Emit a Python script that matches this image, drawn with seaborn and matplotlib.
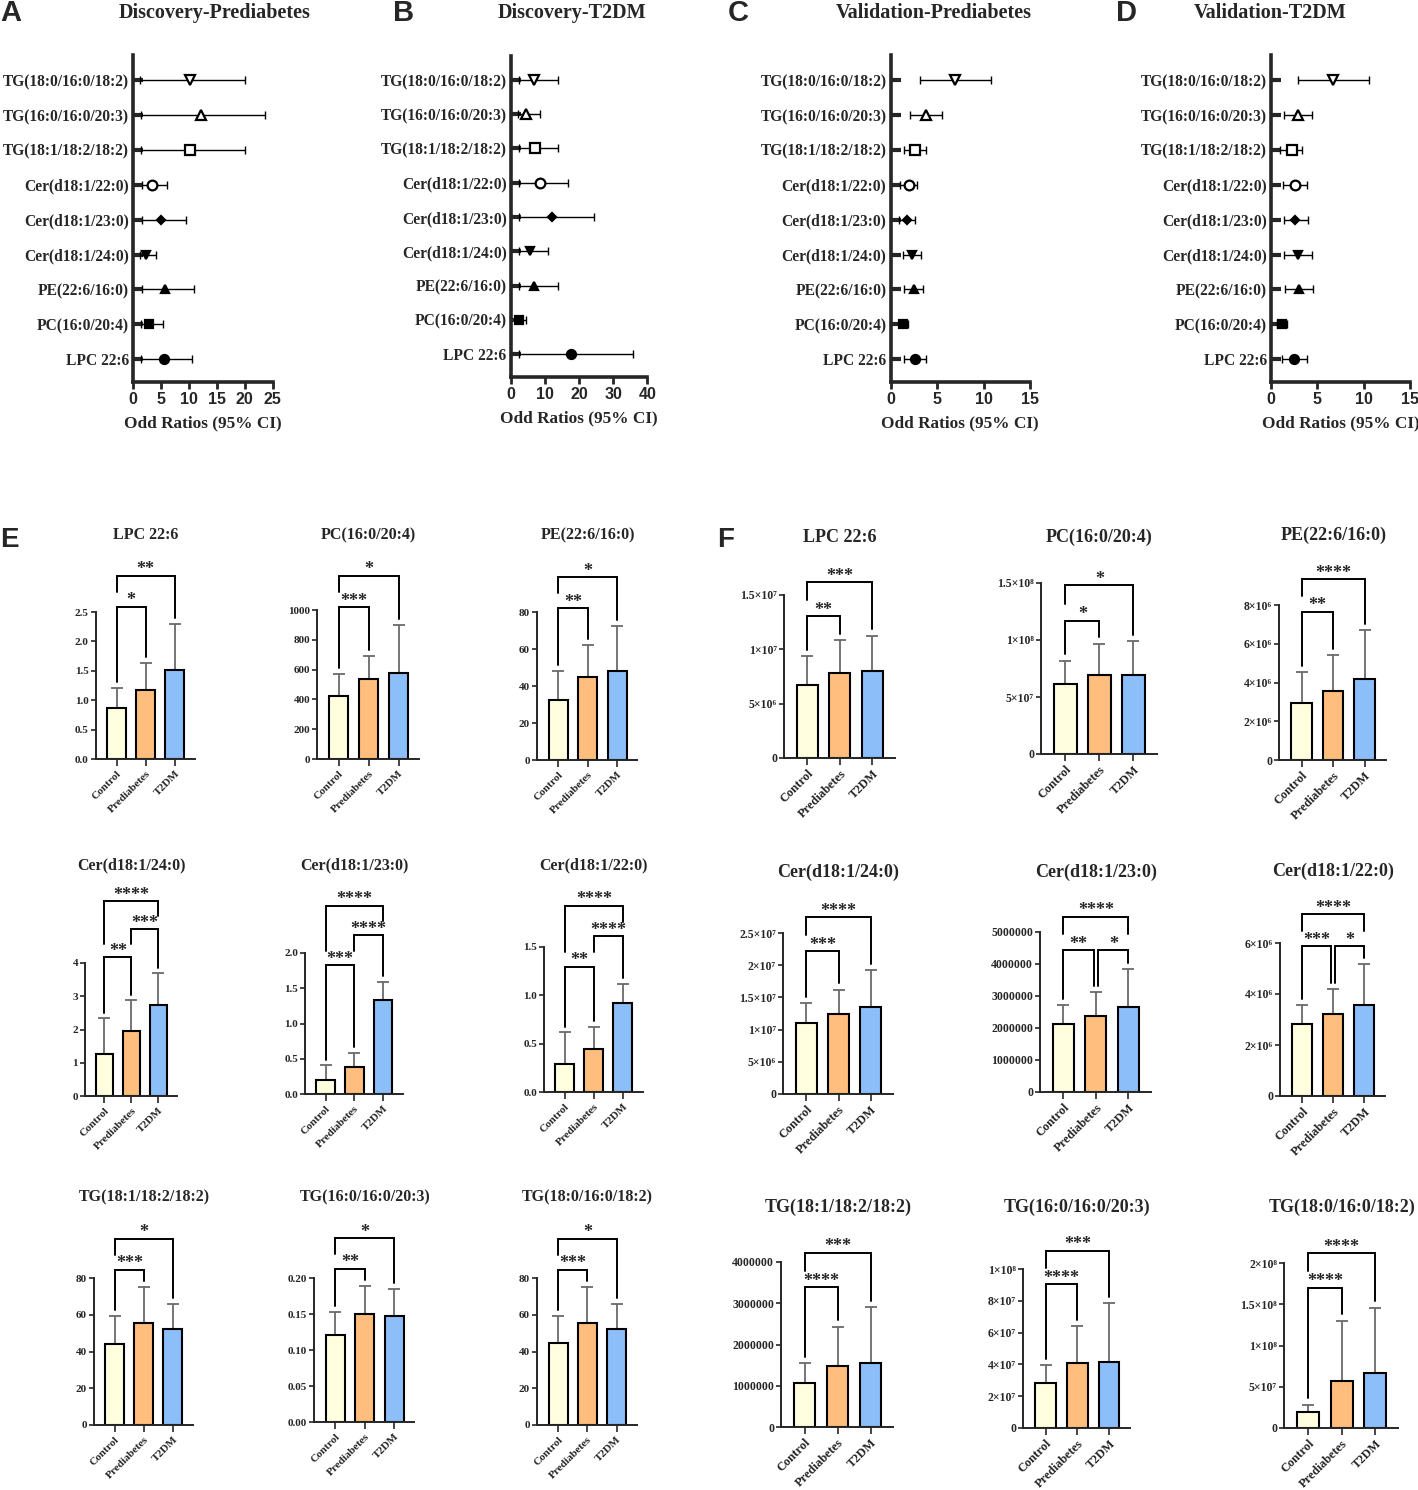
import numpy as np
import pandas as pd
import matplotlib.pyplot as plt
import seaborn as sns

W, H = 1418, 1490

# ---------------- forest plots (A-D) ----------------
lipids = ["TG(18:0/16:0/18:2)", "TG(16:0/16:0/20:3)", "TG(18:1/18:2/18:2)",
          "Cer(d18:1/22:0)", "Cer(d18:1/23:0)", "Cer(d18:1/24:0)",
          "PE(22:6/16:0)", "PC(16:0/20:4)", "LPC 22:6"]

disc_pre_or = [10.2, 12.1, 10.2, 3.3, 5.0, 2.2, 5.6, 2.9, 5.5]
disc_pre_lo = [1.2, 1.3, 1.3, 1.5, 1.5, 1.2, 1.5, 1.3, 1.4]
disc_pre_hi = [20.0, 23.7, 20.0, 6.1, 9.4, 4.1, 10.8, 5.3, 10.5]

disc_t2d_or = [6.9, 4.4, 7.0, 8.6, 12.1, 5.6, 6.8, 2.3, 17.6]
disc_t2d_lo = [2.5, 2.2, 2.5, 2.5, 2.5, 2.5, 2.5, 1.2, 2.5]
disc_t2d_hi = [13.9, 8.7, 13.9, 16.9, 24.5, 11.0, 13.8, 4.5, 35.9]

val_pre_or = [6.9, 3.8, 2.6, 1.96, 1.77, 2.34, 2.5, 1.3, 2.6]
val_pre_lo = [3.15, 2.15, 1.5, 1.05, 0.9, 1.3, 1.4, 0.9, 1.5]
val_pre_hi = [10.8, 5.5, 3.8, 2.8, 2.6, 3.3, 3.5, 1.85, 3.8]

val_t2d_or = [6.7, 2.9, 2.26, 2.55, 2.64, 2.9, 3.0, 1.15, 2.5]
val_t2d_lo = [2.9, 1.45, 1.0, 1.3, 1.35, 1.45, 1.5, 0.7, 1.2]
val_t2d_hi = [10.6, 4.4, 3.3, 3.9, 4.0, 4.4, 4.5, 1.7, 3.85]

marker_shapes = ["v", "^", "s", "o", "D", "v", "^", "s", "o"]
marker_open = [True, True, True, True, False, False, False, False, False]
marker_sizes = [7, 7, 6.5, 7, 4.5, 6, 6, 6, 6.5]

# ---------------- bar plots (E, F) ----------------
groups = ["Control", "Prediabetes", "T2DM"]
group_colors = ["#FFFFE0", "#FFBE7D", "#8CBEFA"]

# E: discovery cohort
e_lpc_mean = [0.86, 1.17, 1.51]
e_lpc_sd = [0.35, 0.46, 0.78]
e_lpc_ticks = [0, 0.5, 1.0, 1.5, 2.0, 2.5]
e_lpc_labels = ["0.0", "0.5", "1.0", "1.5", "2.0", "2.5"]
e_lpc_sig = [(0, 1, "*", 0), (0, 2, "**", 1)]

e_pc_mean = [425, 537, 580]
e_pc_sd = [145, 155, 319]
e_pc_ticks = [0, 200, 400, 600, 800, 1000]
e_pc_labels = ["0", "200", "400", "600", "800", "1000"]
e_pc_sig = [(0, 1, "***", 0), (0, 2, "*", 1)]

e_pe_mean = [32.5, 44.7, 48.3]
e_pe_sd = [15.4, 17.4, 24.2]
e_pe_ticks = [0, 20, 40, 60, 80]
e_pe_labels = ["0", "20", "40", "60", "80"]
e_pe_sig = [(0, 1, "**", 0), (0, 2, "*", 1)]

e_cer24_mean = [1.25, 1.94, 2.75]
e_cer24_sd = [1.09, 0.94, 0.94]
e_cer24_ticks = [0, 1, 2, 3, 4]
e_cer24_labels = ["0", "1", "2", "3", "4"]
e_cer24_sig = [(0, 1, "**", 0), (1, 2, "***", 1), (0, 2, "****", 2)]

e_cer23_mean = [0.198, 0.377, 1.335]
e_cer23_sd = [0.208, 0.203, 0.255]
e_cer23_ticks = [0, 0.5, 1.0, 1.5, 2.0]
e_cer23_labels = ["0.0", "0.5", "1.0", "1.5", "2.0"]
e_cer23_sig = [(0, 1, "***", 0), (1, 2, "****", 1), (0, 2, "****", 2)]

e_cer22_mean = [0.293, 0.445, 0.917]
e_cer22_sd = [0.324, 0.227, 0.200]
e_cer22_ticks = [0, 0.5, 1.0, 1.5]
e_cer22_labels = ["0.0", "0.5", "1.0", "1.5"]
e_cer22_sig = [(0, 1, "**", 0), (1, 2, "****", 1), (0, 2, "****", 2)]

e_tg181_mean = [44.3, 55.4, 52.5]
e_tg181_sd = [15.0, 19.6, 13.4]
e_tg181_ticks = [0, 20, 40, 60, 80]
e_tg181_labels = ["0", "20", "40", "60", "80"]
e_tg181_sig = [(0, 1, "***", 0), (0, 2, "*", 1)]

e_tg160_mean = [0.121, 0.1506, 0.147]
e_tg160_sd = [0.032, 0.0384, 0.038]
e_tg160_ticks = [0, 0.05, 0.10, 0.15, 0.20]
e_tg160_labels = ["0.00", "0.05", "0.10", "0.15", "0.20"]
e_tg160_sig = [(0, 1, "**", 0), (0, 2, "*", 1)]

e_tg180_mean = [44.5, 55.4, 52.5]
e_tg180_sd = [14.8, 19.6, 13.3]
e_tg180_ticks = [0, 20, 40, 60, 80]
e_tg180_labels = ["0", "20", "40", "60", "80"]
e_tg180_sig = [(0, 1, "***", 0), (0, 2, "*", 1)]

# F: validation cohort
f_lpc_mean = [6.73e6, 7.84e6, 8.05e6]
f_lpc_sd = [2.65e6, 3.01e6, 3.2e6]
f_lpc_ticks = [0, 5e6, 1e7, 1.5e7]
f_lpc_labels = ["0", "5×10⁶", "1×10⁷", "1.5×10⁷"]
f_lpc_sig = [(0, 1, "**", 0), (0, 2, "***", 1)]

f_pc_mean = [6.17e7, 6.93e7, 6.96e7]
f_pc_sd = [1.96e7, 2.75e7, 2.92e7]
f_pc_ticks = [0, 5e7, 1e8, 1.5e8]
f_pc_labels = ["0", "5×10⁷", "1×10⁸", "1.5×10⁸"]
f_pc_sig = [(0, 1, "*", 0), (0, 2, "*", 1)]

f_pe_mean = [2.92e6, 3.58e6, 4.16e6]
f_pe_sd = [1.62e6, 1.84e6, 2.54e6]
f_pe_ticks = [0, 2e6, 4e6, 6e6, 8e6]
f_pe_labels = ["0", "2×10⁶", "4×10⁶", "6×10⁶", "8×10⁶"]
f_pe_sig = [(0, 1, "**", 0), (0, 2, "****", 1)]

f_cer24_mean = [1.102e7, 1.247e7, 1.356e7]
f_cer24_sd = [3.06e6, 3.73e6, 5.64e6]
f_cer24_ticks = [0, 5e6, 1e7, 1.5e7, 2e7, 2.5e7]
f_cer24_labels = ["0", "5×10⁶", "1×10⁷", "1.5×10⁷", "2×10⁷", "2.5×10⁷"]
f_cer24_sig = [(0, 1, "***", 0), (0, 2, "****", 1)]

f_cer23_mean = [2.116e6, 2.365e6, 2.645e6]
f_cer23_sd = [5.94e5, 7.45e5, 1.185e6]
f_cer23_ticks = [0, 1e6, 2e6, 3e6, 4e6, 5e6]
f_cer23_labels = ["0", "1000000", "2000000", "3000000", "4000000", "5000000"]
f_cer23_sig = [(0, 1, "**", 0), (1, 2, "*", 0), (0, 2, "****", 1)]

f_cer22_mean = [2.84e6, 3.21e6, 3.585e6]
f_cer22_sd = [7.2e5, 1.0e6, 1.575e6]
f_cer22_ticks = [0, 2e6, 4e6, 6e6]
f_cer22_labels = ["0", "2×10⁶", "4×10⁶", "6×10⁶"]
f_cer22_sig = [(0, 1, "***", 0), (1, 2, "*", 0), (0, 2, "****", 1)]

f_tg181_mean = [1.063e6, 1.485e6, 1.56e6]
f_tg181_sd = [4.77e5, 9.45e5, 1.345e6]
f_tg181_ticks = [0, 1e6, 2e6, 3e6, 4e6]
f_tg181_labels = ["0", "1000000", "2000000", "3000000", "4000000"]
f_tg181_sig = [(0, 1, "****", 0), (0, 2, "***", 1)]

f_tg160_mean = [2.82e7, 4.08e7, 4.12e7]
f_tg160_sd = [1.13e7, 2.33e7, 3.72e7]
f_tg160_ticks = [0, 2e7, 4e7, 6e7, 8e7, 1e8]
f_tg160_labels = ["0", "2×10⁷", "4×10⁷", "6×10⁷", "8×10⁷", "1×10⁸"]
f_tg160_sig = [(0, 1, "****", 0), (0, 2, "***", 1)]

f_tg180_mean = [1.94e7, 5.75e7, 6.64e7]
f_tg180_sd = [8.5e6, 7.21e7, 7.96e7]
f_tg180_ticks = [0, 5e7, 1e8, 1.5e8, 2e8]
f_tg180_labels = ["0", "5×10⁷", "1×10⁸", "1.5×10⁸", "2×10⁸"]
f_tg180_sig = [(0, 1, "****", 0), (0, 2, "****", 1)]


sns.set_style("ticks")
plt.rcParams["font.family"] = ["Liberation Serif", "DejaVu Serif"]
plt.rcParams["font.weight"] = "bold"
plt.rcParams["axes.linewidth"] = 1.4

SANS = ["Liberation Sans", "DejaVu Sans"]

fig = plt.figure(figsize=(W / 100, H / 100), dpi=100)


def px_axes(left, bottom, width, height):
    return fig.add_axes([left / W, 1 - bottom / H, width / W, height / H])


def forest(rect, ylims, orr, lo, hi, xmax, xstep, title, title_x, letter, letter_x):
    ax = px_axes(*rect)
    orr, lo, hi = np.array(orr), np.array(lo), np.array(hi)
    ypos = np.arange(len(lipids))
    ax.errorbar(orr, ypos, xerr=[orr - lo, hi - orr], fmt="none", ecolor="black",
                elinewidth=1.0, capsize=3, capthick=1.0, zorder=2)
    for k in ypos:
        ax.plot(orr[k], k, marker=marker_shapes[k], ms=marker_sizes[k],
                mfc="white" if marker_open[k] else "black", mec="black",
                mew=1.6, ls="none", zorder=3)
    ax.set_xlim(0, xmax)
    ax.set_ylim(*ylims)
    ax.set_yticks(ypos, lipids)
    ax.set_xticks(np.arange(0, xmax + 1, xstep))
    for lab in ax.get_xticklabels():
        lab.set_family(SANS)
        lab.set_fontweight("bold")
    ax.tick_params(axis="y", direction="in", length=7, width=3, pad=3, labelsize=11.2)
    ax.tick_params(axis="x", direction="out", length=5, width=2, pad=2, labelsize=11.5)
    for s in ("left", "bottom"):
        ax.spines[s].set_linewidth(2.6)
    sns.despine(ax=ax)
    ax.set_xlabel("Odd Ratios (95% CI)", fontsize=12.4, fontweight="bold", labelpad=6)
    fig.text(title_x / W, 1 - 13 / H, title, ha="center", va="center",
             fontsize=14.5, fontweight="bold")
    fig.text(letter_x / W, 1 - 13 / H, letter, ha="left", va="center",
             fontsize=21, fontweight="bold", family=SANS)
    return ax


forest((133.3, 382, 139.4, 327), (8.65, -0.716), disc_pre_or, disc_pre_lo, disc_pre_hi,
       25, 5, "Discovery-Prediabetes", 215, "A", 0)
forest((510.7, 377, 136.6, 321), (8.67, -0.70), disc_t2d_or, disc_t2d_lo, disc_t2d_hi,
       40, 10, "Discovery-T2DM", 572, "B", 393)
forest((890.5, 382, 139.5, 327), (8.65, -0.716), val_pre_or, val_pre_lo, val_pre_hi,
       15, 5, "Validation-Prediabetes", 934, "C", 728)
forest((1271, 382, 139, 327), (8.65, -0.716), val_t2d_or, val_t2d_lo, val_t2d_hi,
       15, 5, "Validation-T2DM", 1270, "D", 1116)


def bar_panel(pos, title, means, sd, ticks, labels, sig, title_y, fs):
    axis_x, zero_y, top_y, spacing = pos
    x0, x1 = -0.72, 2.68
    ax = px_axes(axis_x, zero_y, (x1 - x0) * spacing, zero_y - top_y)
    df = pd.DataFrame({"group": groups, "value": means})
    sns.barplot(data=df, x="group", y="value", hue="group", palette=group_colors,
                saturation=1, width=0.65, edgecolor="black", linewidth=1.5,
                errorbar=None, legend=False, ax=ax, zorder=2)
    ax.errorbar([0, 1, 2], means, yerr=[[0, 0, 0], sd], fmt="none", ecolor="#6a6a6a",
                elinewidth=1.3, capsize=4, capthick=1.3, zorder=1, clip_on=False)
    ymax = ticks[-1]
    ax.set_xlim(x0, x1)
    ax.set_ylim(0, ymax)
    ax.set_yticks(ticks, labels)
    ax.set_xlabel("")
    ax.set_ylabel("")
    ax.tick_params(axis="y", length=3.5, width=1.2, pad=1.5, labelsize=fs["ytick"])
    ax.tick_params(axis="x", length=5, width=1.2, pad=2, labelsize=fs["xtick"])
    plt.setp(ax.get_xticklabels(), rotation=45, ha="right", rotation_mode="anchor",
             fontweight="bold")
    sns.despine(ax=ax)

    tops = [m + s for m, s in zip(means, sd)]
    top = max(tops)

    def level_y(lv):
        return top + (0.12 + 0.21 * lv) * ymax

    for (i, j, lab, lv) in sig:
        yb = level_y(lv)
        xs = [float(i), float(j)]
        legs = []
        for n, k in enumerate((i, j)):
            floor = tops[k] + 0.04 * ymax
            for (i2, j2, _, lv2) in sig:
                if lv2 < lv and i2 <= k <= j2:
                    floor = max(floor, level_y(lv2) + 0.1 * ymax)
                if lv2 == lv and (i2, j2) != (i, j) and k in (i2, j2):
                    xs[n] += 0.07 if n == 0 else -0.07
            legs.append(floor)
        ax.plot([xs[0], xs[0], xs[1], xs[1]], [legs[0], yb, yb, legs[1]],
                color="black", lw=1.4, clip_on=False, solid_joinstyle="miter")
        ax.annotate(lab, xy=((xs[0] + xs[1]) / 2, yb), xytext=(0, 1),
                    textcoords="offset points", ha="center", va="baseline",
                    fontsize=13, fontweight="bold", annotation_clip=False)
    ax.annotate(title, xy=(1, 1 - title_y / H), xycoords=("data", "figure fraction"),
                ha="center", va="center", fontsize=fs["title"], fontweight="bold",
                annotation_clip=False)
    return ax


e_fs = {"title": 11.5, "ytick": 8, "xtick": 8}
f_fs = {"title": 13, "ytick": 8.5, "xtick": 9}

e_panels = [
    ((95.5, 759, 612, 29.2), "LPC 22:6", e_lpc_mean, e_lpc_sd, e_lpc_ticks, e_lpc_labels, e_lpc_sig, 535),
    ((317, 759, 610, 30), "PC(16:0/20:4)", e_pc_mean, e_pc_sd, e_pc_ticks, e_pc_labels, e_pc_sig, 535),
    ((537, 760, 612, 29.5), "PE(22:6/16:0)", e_pe_mean, e_pe_sd, e_pe_ticks, e_pe_labels, e_pe_sig, 535),
    ((85, 1096, 963, 27), "Cer(d18:1/24:0)", e_cer24_mean, e_cer24_sd, e_cer24_ticks, e_cer24_labels, e_cer24_sig, 865),
    ((305, 1094, 953, 28.7), "Cer(d18:1/23:0)", e_cer23_mean, e_cer23_sd, e_cer23_ticks, e_cer23_labels, e_cer23_sig, 865),
    ((544, 1092, 947, 29), "Cer(d18:1/22:0)", e_cer22_mean, e_cer22_sd, e_cer22_ticks, e_cer22_labels, e_cer22_sig, 865),
    ((94, 1425, 1278, 29), "TG(18:1/18:2/18:2)", e_tg181_mean, e_tg181_sd, e_tg181_ticks, e_tg181_labels, e_tg181_sig, 1197),
    ((314, 1422, 1278, 29.5), "TG(16:0/16:0/20:3)", e_tg160_mean, e_tg160_sd, e_tg160_ticks, e_tg160_labels, e_tg160_sig, 1197),
    ((537, 1425, 1278, 29.3), "TG(18:0/16:0/18:2)", e_tg180_mean, e_tg180_sd, e_tg180_ticks, e_tg180_labels, e_tg180_sig, 1197),
]
f_panels = [
    ((784, 758, 595, 32.5), "LPC 22:6", f_lpc_mean, f_lpc_sd, f_lpc_ticks, f_lpc_labels, f_lpc_sig, 537),
    ((1041, 754, 583, 34), "PC(16:0/20:4)", f_pc_mean, f_pc_sd, f_pc_ticks, f_pc_labels, f_pc_sig, 537),
    ((1279, 760, 605, 31.5), "PE(22:6/16:0)", f_pe_mean, f_pe_sd, f_pe_ticks, f_pe_labels, f_pe_sig, 535),
    ((783, 1094, 933, 32.3), "Cer(d18:1/24:0)", f_cer24_mean, f_cer24_sd, f_cer24_ticks, f_cer24_labels, f_cer24_sig, 872),
    ((1040, 1092, 932, 32.5), "Cer(d18:1/23:0)", f_cer23_mean, f_cer23_sd, f_cer23_ticks, f_cer23_labels, f_cer23_sig, 872),
    ((1280, 1096, 943, 31), "Cer(d18:1/22:0)", f_cer22_mean, f_cer22_sd, f_cer22_ticks, f_cer22_labels, f_cer22_sig, 871),
    ((781, 1427, 1262, 33), "TG(18:1/18:2/18:2)", f_tg181_mean, f_tg181_sd, f_tg181_ticks, f_tg181_labels, f_tg181_sig, 1207),
    ((1023, 1428, 1269, 31.6), "TG(16:0/16:0/20:3)", f_tg160_mean, f_tg160_sd, f_tg160_ticks, f_tg160_labels, f_tg160_sig, 1207),
    ((1284, 1428, 1263, 33.5), "TG(18:0/16:0/18:2)", f_tg180_mean, f_tg180_sd, f_tg180_ticks, f_tg180_labels, f_tg180_sig, 1207),
]

for p in e_panels:
    bar_panel(*p, e_fs)
for p in f_panels:
    bar_panel(*p, f_fs)

fig.text(0 / W, 1 - 540 / H, "E", ha="left", va="center", fontsize=20,
         fontweight="bold", family=SANS)
fig.text(717 / W, 1 - 540 / H, "F", ha="left", va="center", fontsize=20,
         fontweight="bold", family=SANS)

fig.savefig("out.png", dpi=100, facecolor="white")
